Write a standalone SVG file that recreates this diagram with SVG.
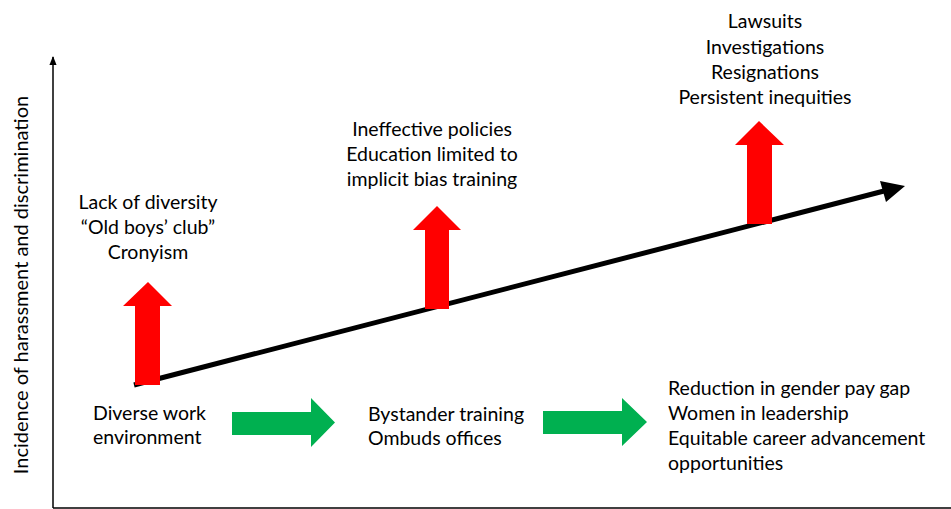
<svg xmlns="http://www.w3.org/2000/svg" width="951" height="509" viewBox="0 0 951 509">
  <style>
    text { font-family: Lato, "Liberation Sans", sans-serif; font-size: 19.5px; fill: #000; }
    .c { text-anchor: middle; }
    .up { fill: #FF0000; }
    .go { fill: #00B050; }
    .axis { stroke: #000; stroke-width: 1.5; fill: none; }
  </style>
  <defs>
    <marker id="axhead" viewBox="0 0 10 10" refX="9" refY="5" markerWidth="6" markerHeight="6" orient="auto">
      <path d="M0,1 L10,5 L0,9 Z" fill="#000"/>
    </marker>
  </defs>

  <!-- axes -->
  <g id="axes">
    <path class="axis" d="M53,508 L53,57" marker-end="url(#axhead)"/>
    <path class="axis" d="M53,508 L951,508"/>
    <text class="c" transform="translate(28,285) rotate(-90)" style="font-size:20px">Incidence of harassment and discrimination</text>
  </g>

  <!-- connectors: rising trend line, red escalation arrows, green progression arrows -->
  <g id="connectors">
    <path d="M134,385 L884,191" stroke="#000" stroke-width="5" fill="none"/>
    <path d="M880,181 L905,186 L886,202 Z" fill="#000"/>
    <path class="up" d="M135,385 L160,385 L160,306 L172,306 L148,282 L123,306 L135,306 Z"/>
    <path class="up" d="M425,309 L449,309 L449,230 L461,230 L437,206 L413,230 L425,230 Z"/>
    <path class="up" d="M747,224 L772,224 L772,145 L784,145 L759,121 L735,145 L747,145 Z"/>
    <path class="go" d="M232,412 L311,412 L311,398 L335,422.5 L311,447 L311,435 L232,435 Z"/>
    <path class="go" d="M543,411 L622,411 L622,398 L647,422 L622,446 L622,434 L543,434 Z"/>
  </g>

  <g id="node-start-risks">
    <text class="c" x="148" y="209">Lack of diversity</text>
    <text class="c" x="148" y="234">“Old boys’ club”</text>
    <text class="c" x="148" y="259">Cronyism</text>
  </g>

  <g id="node-mid-risks">
    <text class="c" x="432" y="136">Ineffective policies</text>
    <text class="c" x="432" y="161">Education limited to</text>
    <text class="c" x="432" y="186">implicit bias training</text>
  </g>

  <g id="node-end-risks">
    <text class="c" x="765" y="28">Lawsuits</text>
    <text class="c" x="765" y="53.5">Investigations</text>
    <text class="c" x="765" y="79">Resignations</text>
    <text class="c" x="765" y="104">Persistent inequities</text>
  </g>

  <g id="node-diverse">
    <text x="93" y="420">Diverse work</text>
    <text x="93" y="444">environment</text>
  </g>

  <g id="node-bystander">
    <text x="368" y="421">Bystander training</text>
    <text x="368" y="445">Ombuds offices</text>
  </g>

  <g id="node-outcomes">
    <text x="668" y="395">Reduction in gender pay gap</text>
    <text x="668" y="420">Women in leadership</text>
    <text x="668" y="445">Equitable career advancement</text>
    <text x="668" y="470">opportunities</text>
  </g>
</svg>
